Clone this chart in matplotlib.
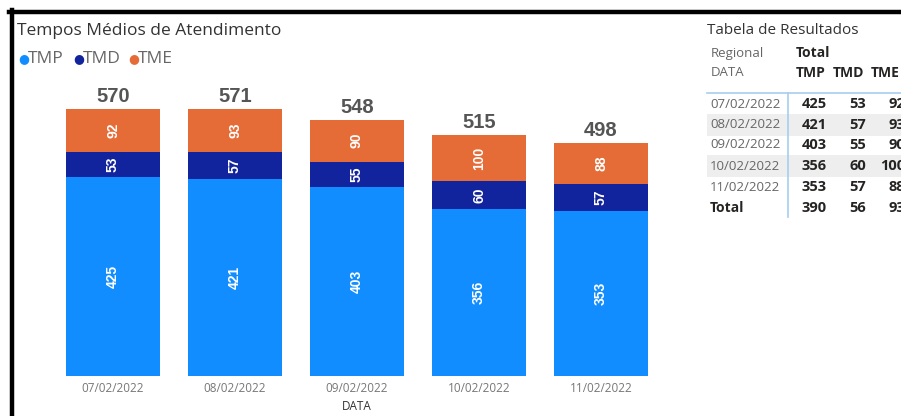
import matplotlib
matplotlib.use("Agg")
import matplotlib.pyplot as plt
from matplotlib.lines import Line2D
from matplotlib.patches import Rectangle

dates = ["07/02/2022", "08/02/2022", "09/02/2022", "10/02/2022", "11/02/2022"]
tmp = [425, 421, 403, 356, 353]
tmd = [53, 57, 55, 60, 57]
tme = [92, 93, 90, 100, 88]
totals = [570, 571, 548, 515, 498]
table_total = [390, 56, 93]
series_names = ["TMP", "TMD", "TME"]
colors = ["#118DFF", "#12239E", "#E66C37"]

W, H = 901, 416
plt.rcParams["font.family"] = ["Open Sans", "DejaVu Sans"]
fig = plt.figure(figsize=(W / 100, H / 100), dpi=100)

def P(x, y):
    return x / W, 1 - y / H

# black frame lines
fig.add_artist(Line2D([9 / W, 1.0], [1 - 11.5 / H] * 2, color="black", lw=3.2, transform=fig.transFigure))
fig.add_artist(Line2D([11.5 / W] * 2, [0, 1 - 10 / H], color="black", lw=3.2, transform=fig.transFigure))

# chart axes
ax_left, ax_right = 52, 662
ax_bottom, ax_top = 376, 80
ax = fig.add_axes([ax_left / W, 1 - ax_bottom / H, (ax_right - ax_left) / W, (ax_bottom - ax_top) / H])
x = list(range(len(dates)))
bottoms = [0] * len(dates)
for vals, col in zip([tmp, tmd, tme], colors):
    bars = ax.bar(x, vals, bottom=bottoms, width=0.77, color=col, edgecolor="none")
    ax.bar_label(bars, labels=[str(v) for v in vals], label_type="center", rotation=90,
                 color="white", fontsize=10, fontweight="bold", family="Liberation Sans")
    bottoms = [b + v for b, v in zip(bottoms, vals)]
for i, (top, t) in enumerate(zip(bottoms, totals)):
    ax.annotate(str(t), (i, top), xytext=(0, 2), textcoords="offset points", ha="center", va="bottom",
                fontsize=14.5, fontweight="bold", color="#555555", family="Liberation Sans")
ax.set_xlim(-0.5, len(dates) - 0.5)
ax.set_ylim(0, (ax_bottom - ax_top) / 0.468)
ax.set_xticks(x)
ax.set_xticklabels(dates, fontsize=8.5, color="#777777")
ax.tick_params(axis="x", length=0, pad=4)
ax.set_yticks([])
for s in ax.spines.values():
    s.set_visible(False)
ax.set_xlabel("DATA", fontsize=8.5, color="#333333", labelpad=4)

# title & legend
fig.text(*P(17, 31), "Tempos Médios de Atendimento", fontsize=12.5, color="#333333", va="center", ha="left")
lx = [18, 73, 128]
for name, col, xx in zip(series_names, colors, lx):
    fig.text(*P(xx, 59), "●", fontsize=9, color=col, va="center", ha="left", family="DejaVu Sans")
    fig.text(*P(xx + 10, 59), name, fontsize=12.5, color="#666666", va="center", ha="left")

# table
fig.text(*P(707, 30), "Tabela de Resultados", fontsize=11, color="#333333", va="center", ha="left")
fig.text(*P(711, 53), "Regional", fontsize=9.5, color="#666666", va="center", ha="left")
fig.text(*P(711, 73), "DATA", fontsize=9.5, color="#666666", va="center", ha="left")
fig.text(*P(796, 53), "Total", fontsize=10, color="#252423", va="center", ha="left", fontweight="bold")
for name, xx in zip(series_names, [796, 833, 871]):
    fig.text(*P(xx, 73), name, fontsize=10, color="#252423", va="center", ha="left", fontweight="bold")

row_y = [104, 125, 145, 166, 187]
for k, y in enumerate(row_y):
    if k % 2 == 1:
        fig.add_artist(Rectangle(P(707, y + 10.5), 1 - 707 / W, 21 / H, transform=fig.transFigure,
                                 facecolor="#EEEEEE", edgecolor="none", zorder=0))
fig.add_artist(Line2D([707 / W, 1.0], [1 - 93 / H] * 2, color="#A8CDF0", lw=1.2, transform=fig.transFigure))
fig.add_artist(Line2D([788 / W] * 2, [1 - 93 / H, 1 - 217 / H], color="#A8CDF0", lw=1.2, transform=fig.transFigure))

col_right = [827, 866, 905]
for k, y in enumerate(row_y):
    fig.text(*P(710, y), dates[k], fontsize=9.5, color="#666666", va="center", ha="left")
    for vals, xr in zip([tmp, tmd, tme], col_right):
        fig.text(*P(xr, y), str(vals[k]), fontsize=10.5, color="#252423", va="center", ha="right", fontweight="bold")
fig.text(*P(710, 208), "Total", fontsize=10, color="#252423", va="center", ha="left", fontweight="bold")
for v, xr in zip(table_total, col_right):
    fig.text(*P(xr, 208), str(v), fontsize=10.5, color="#252423", va="center", ha="right", fontweight="bold")

fig.savefig("out.png", dpi=100)
